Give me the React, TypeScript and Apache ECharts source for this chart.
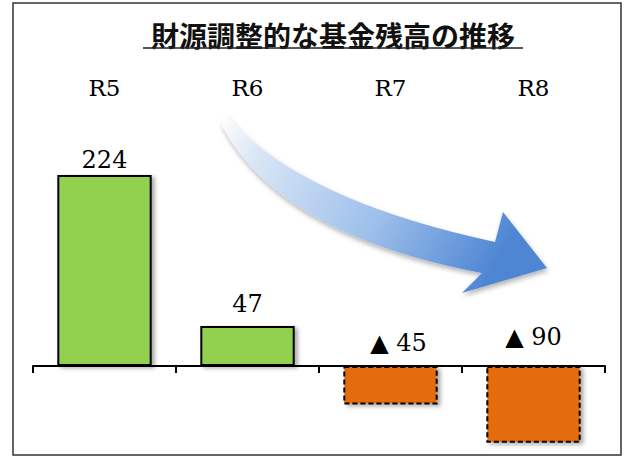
import React, { useEffect, useRef } from "react";
import * as echarts from "echarts";

const title = "財源調整的な基金残高の推移";
const categories = ["R5", "R6", "R7", "R8"];
const values = [224, 47, -45, -90];

const ARROW_D =
  "M 228 117 Q 300 200 495 242 L 503 212 L 547 268 L 462 293 L 482 273 Q 280 235 222 126 Q 222 119 228 117 Z";

let registered = false;
function registerShapes() {
  if (registered) return;
  echarts.graphic.registerShape("bigArrow", echarts.graphic.extendPath(ARROW_D, {}) as any);
  registered = true;
}

export default function App() {
  const ref = useRef<HTMLDivElement>(null);
  useEffect(() => {
    if (!ref.current) return;
    registerShapes();
    const chart = echarts.init(ref.current, undefined, { renderer: "svg" });
    const labelDist = [3, 10, 11, 17];
    const labelOffsetX = [0, 0, 8, 0];
    const serif = "'DejaVu Serif', serif";
    const option: any = {
      animation: false,
      backgroundColor: "#ffffff",
      grid: { left: 33, right: 22, top: 161.3, height: 290, containLabel: false },
      xAxis: [
        {
          type: "category",
          data: categories,
          position: "bottom",
          axisLine: { show: true, onZero: true, lineStyle: { color: "#000", width: 2 } },
          axisTick: { show: true, length: 7, lineStyle: { color: "#000", width: 2 } },
          axisLabel: { show: false },
          splitLine: { show: false },
        },
        {
          type: "category",
          data: categories,
          position: "top",
          axisLine: { show: false },
          axisTick: { show: false },
          axisLabel: {
            show: true,
            margin: 62,
            fontSize: 23,
            fontWeight: "normal",
            color: "#000",
            fontFamily: serif,
          },
          splitLine: { show: false },
        },
      ],
      yAxis: { type: "value", min: -100, max: 240, show: false, splitLine: { show: false } },
      series: [
        {
          type: "bar",
          xAxisIndex: 0,
          barWidth: "66%",
          data: values.map((v, i) => ({
            value: v,
            itemStyle:
              v >= 0
                ? {
                    color: "#92d050",
                    borderColor: "#000",
                    borderWidth: 2,
                    borderType: "solid",
                    shadowBlur: 4,
                    shadowColor: "rgba(0,0,0,0.35)",
                    shadowOffsetX: 3,
                    shadowOffsetY: 2,
                  }
                : {
                    color: "#e46c0a",
                    borderColor: "#000",
                    borderWidth: 2,
                    borderType: [5, 3],
                    shadowBlur: 4,
                    shadowColor: "rgba(0,0,0,0.35)",
                    shadowOffsetX: 3,
                    shadowOffsetY: 2,
                  },
            label: {
              show: true,
              position: "top",
              distance: labelDist[i],
              offset: [labelOffsetX[i], 0],
            },
          })),
          label: {
            show: true,
            fontSize: 24,
            color: "#000",
            fontFamily: serif,
            formatter: (p: any) => (p.value < 0 ? "▲ " + Math.abs(p.value) : String(p.value)),
          },
        },
      ],
      graphic: [
        {
          type: "rect",
          shape: { x: 13, y: 3, width: 608, height: 452 },
          style: { fill: "none", stroke: "#333", lineWidth: 1.5 },
          silent: true,
        },
        {
          type: "text",
          x: 333,
          y: 35,
          style: {
            text: title,
            fontSize: 28,
            fontWeight: "bold",
            fontFamily: "'Noto Sans CJK JP', sans-serif",
            fill: "#111",
            textAlign: "center",
            textVerticalAlign: "middle",
          },
        },
        {
          type: "line",
          shape: { x1: 143, y1: 48, x2: 523, y2: 48 },
          style: { stroke: "#222", lineWidth: 1.5 },
        },
        {
          type: "bigArrow",
          x: 0,
          y: 0,
          style: {
            fill: new echarts.graphic.LinearGradient(0, 0, 1, 0.3, [
              { offset: 0, color: "rgba(255,255,255,0.9)" },
              { offset: 0.15, color: "#dbe7f6" },
              { offset: 0.6, color: "#9dbfea" },
              { offset: 1, color: "#4f86d4" },
            ]),
            shadowBlur: 5,
            shadowColor: "rgba(0,0,0,0.3)",
            shadowOffsetX: 1,
            shadowOffsetY: 3,
          },
        },
      ],
    };
    chart.setOption(option);
    return () => chart.dispose();
  }, []);
  return (
    <div
      ref={ref}
      style={{ position: "fixed", left: 0, top: 0, width: 627, height: 459 }}
    />
  );
}
